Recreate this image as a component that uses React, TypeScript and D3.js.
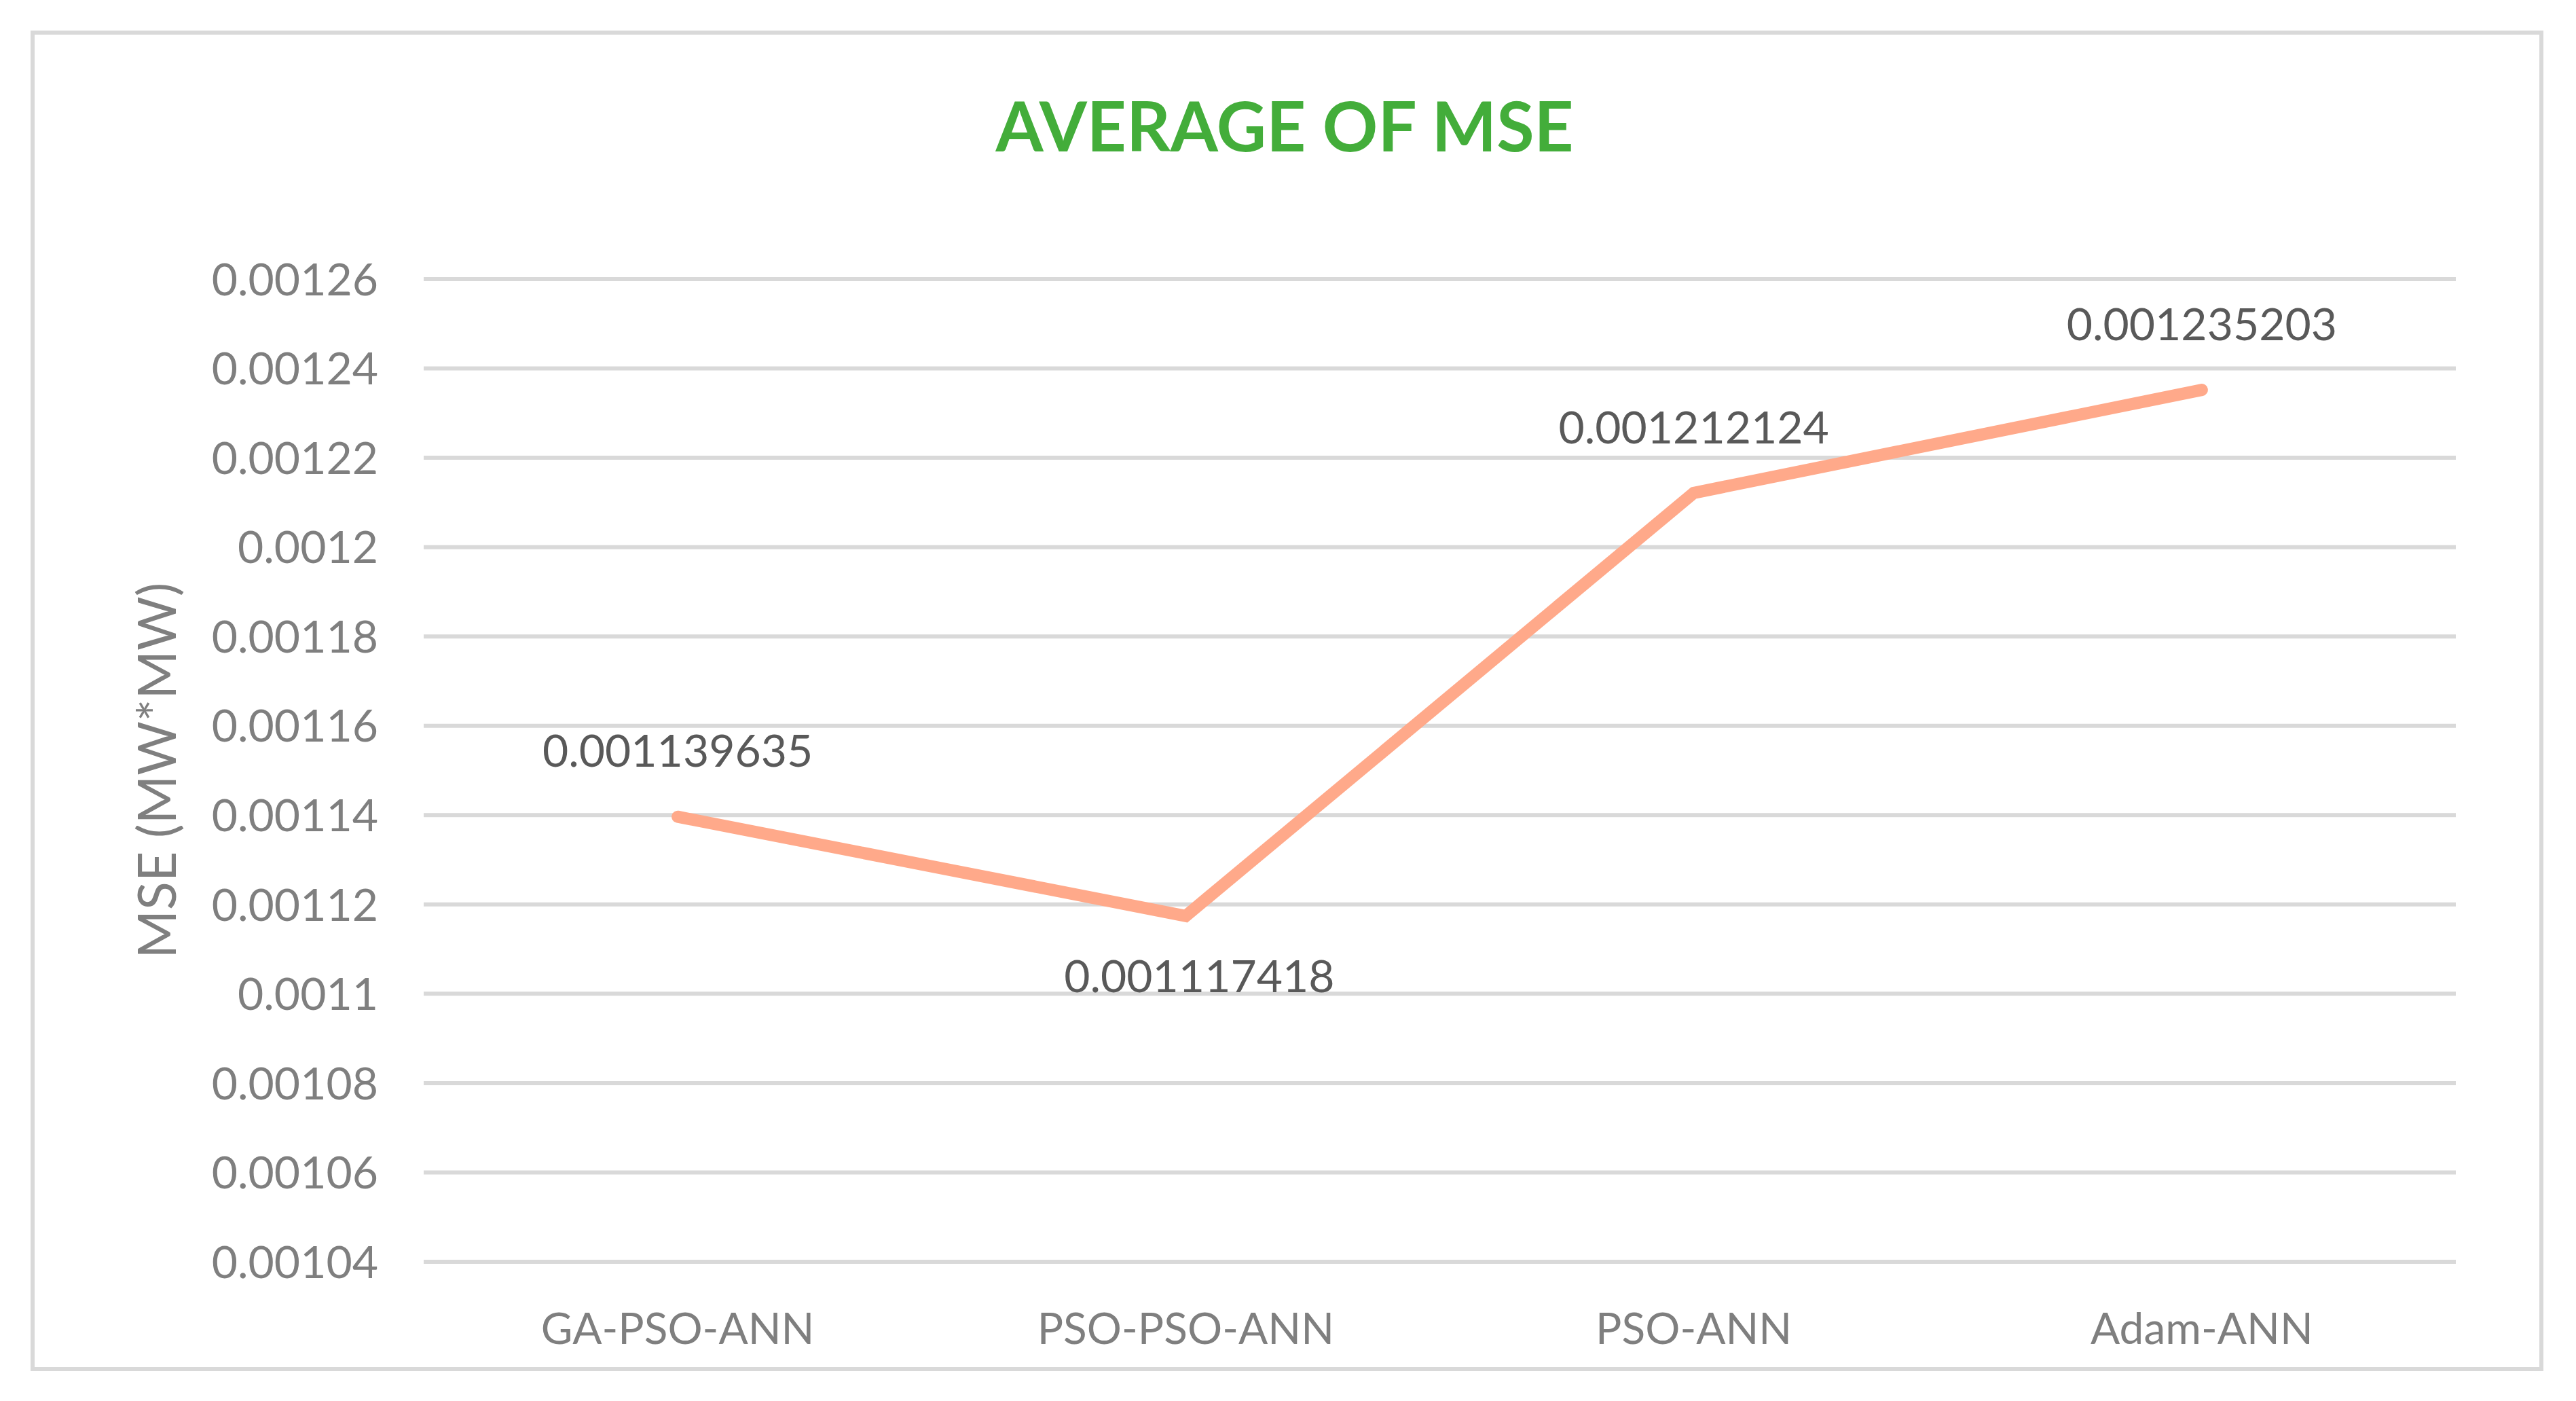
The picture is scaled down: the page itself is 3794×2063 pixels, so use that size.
import React, { useEffect } from 'react';
import { scaleLinear, scalePoint, line, range } from 'd3';

const categories = ['GA-PSO-ANN', 'PSO-PSO-ANN', 'PSO-ANN', 'Adam-ANN'];
const mseValues = [0.001139635, 0.001117418, 0.001212124, 0.001235203];
const valueLabels = ['0.001139635', '0.001117418', '0.001212124', '0.001235203'];
const labelSide = ['above', 'below', 'above', 'above'];
const yTicks = range(0, 12).map((i) => 0.00104 + i * 0.00002);

const W = 3794;
const H = 2063;
const FONT = 'Lato, "Open Sans", sans-serif';

const fmtTick = (v: number) => String(+v.toFixed(5));

export default function App() {
  useEffect(() => {
    document.body.style.margin = '0';
  }, []);

  const plot = { left: 624, right: 3617, top: 411, bottom: 1858 };

  const y = scaleLinear().domain([0.00104, 0.00126]).range([plot.bottom, plot.top]);
  const x = scalePoint<string>().domain(categories).range([plot.left, plot.right]).padding(0.5);

  const pts = categories.map((c, i) => [x(c) as number, y(mseValues[i])] as [number, number]);
  const path = line()(pts) || '';

  return (
    <svg width={W} height={H} style={{ display: 'block', background: '#fff' }} fontFamily={FONT}>
      <rect x={48} y={48} width={3695} height={1968} fill="#fff" stroke="#d9d9d9" strokeWidth={6} />

      <text x={1892} y={223} textAnchor="middle" fontSize={101} fontWeight={700} fill="#43ad3a">
        AVERAGE OF MSE
      </text>

      {yTicks.map((t) => (
        <g key={t}>
          <line x1={plot.left} x2={plot.right} y1={y(t)} y2={y(t)} stroke="#d9d9d9" strokeWidth={6} />
          <text x={557} y={y(t)} dy="0.36em" textAnchor="end" fontSize={66} fill="#7f7f7f">
            {fmtTick(t)}
          </text>
        </g>
      ))}

      {categories.map((c) => (
        <text key={c} x={x(c)} y={1979} textAnchor="middle" fontSize={64} fill="#7f7f7f">
          {c}
        </text>
      ))}

      <text
        transform={`translate(259, ${(plot.top + plot.bottom) / 2}) rotate(-90)`}
        textAnchor="middle"
        fontSize={77}
        fill="#7f7f7f"
      >
        MSE (MW*MW)
      </text>

      <path d={path} fill="none" stroke="#ffa98a" strokeWidth={18} strokeLinecap="round" strokeLinejoin="miter" />

      {pts.map(([px, py], i) => (
        <text
          key={categories[i]}
          x={px + (labelSide[i] === 'below' ? 20 : 0)}
          y={labelSide[i] === 'above' ? py - 97 : py + 88}
          dy="0.36em"
          textAnchor="middle"
          fontSize={66}
          fill="#595959"
        >
          {valueLabels[i]}
        </text>
      ))}
    </svg>
  );
}
